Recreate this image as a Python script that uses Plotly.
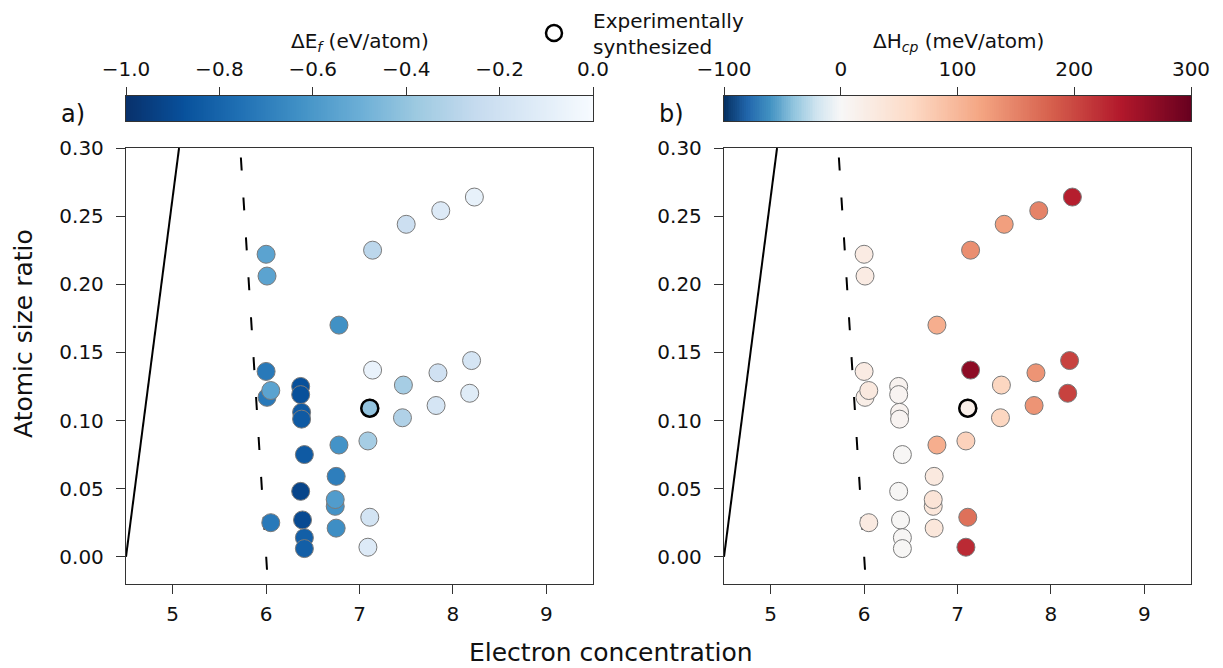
import numpy as np
import plotly.graph_objects as go

W, H = 1223, 668

# ---------------- data ----------------
electron_conc = [8.23, 7.87, 7.50, 7.14, 6.00, 6.01, 6.78, 8.20, 7.84, 7.14, 7.47, 6.00,
                 6.01, 6.05, 6.37, 6.37, 6.38, 6.38, 7.11, 8.18, 7.82, 7.46, 7.09, 6.78,
                 6.41, 6.75, 6.37, 6.74, 6.74, 6.75, 6.05, 6.39, 6.41, 6.41, 7.11, 7.09]
size_ratio = [0.264, 0.254, 0.244, 0.225, 0.222, 0.206, 0.170, 0.144, 0.135, 0.137, 0.126, 0.136,
              0.117, 0.122, 0.125, 0.119, 0.106, 0.101, 0.109, 0.120, 0.111, 0.102, 0.085, 0.082,
              0.075, 0.059, 0.048, 0.037, 0.042, 0.021, 0.025, 0.027, 0.014, 0.006, 0.029, 0.007]
dE_f = [-0.08, -0.13, -0.22, -0.28, -0.55, -0.55, -0.63, -0.17, -0.20, -0.07, -0.35, -0.72,
        -0.72, -0.55, -0.88, -0.88, -0.84, -0.84, -0.40, -0.12, -0.17, -0.32, -0.35, -0.62,
        -0.84, -0.70, -0.92, -0.62, -0.58, -0.64, -0.72, -0.90, -0.82, -0.82, -0.18, -0.13]
dH_cp = [235, 150, 125, 140, 25, 25, 110, 205, 135, 270, 65, 25,
         20, 30, 10, 8, 10, 8, 18, 205, 135, 65, 70, 110,
         3, 30, 2, 35, 40, 35, 28, 3, 4, 3, 165, 225]
synthesized_idx = [18]

solid_x = [4.5, 5.068]
solid_y = [0.0, 0.30]
dashed_x = [5.73, 6.012]
dashed_y = [0.293, -0.012]

x_ticks = [5, 6, 7, 8, 9]
y_ticks = [0.00, 0.05, 0.10, 0.15, 0.20, 0.25, 0.30]
cb_a_ticks = [-1.0, -0.8, -0.6, -0.4, -0.2, 0.0]
cb_b_ticks = [-100, 0, 100, 200, 300]

# ---------------- colour scales ----------------
blues = ['rgb(247,251,255)', 'rgb(222,235,247)', 'rgb(198,219,239)', 'rgb(158,202,225)',
         'rgb(107,174,214)', 'rgb(66,146,198)', 'rgb(33,113,181)', 'rgb(8,81,156)', 'rgb(8,48,107)']
blues_r = blues[::-1]
cs_a = [[i / (len(blues_r) - 1), c] for i, c in enumerate(blues_r)]

rdbu_r = ['rgb(5,48,97)', 'rgb(33,102,172)', 'rgb(67,147,195)', 'rgb(146,197,222)',
          'rgb(209,229,240)', 'rgb(247,247,247)', 'rgb(253,219,199)', 'rgb(244,165,130)',
          'rgb(214,96,77)', 'rgb(178,24,43)', 'rgb(103,0,31)']
vmin_b, vcen_b, vmax_b = -100, 0, 300
pcen = (vcen_b - vmin_b) / (vmax_b - vmin_b)
cs_b = []
for i, c in enumerate(rdbu_r):
    if i <= 5:
        p = pcen * i / 5
    else:
        p = pcen + (1 - pcen) * (i - 5) / 5
    cs_b.append([p, c])

FONT = "DejaVu Sans"
TXT = "#111111"
AX = "#333333"


def pxx(p):
    return p / W


def pxy(p):
    return 1 - p / H


fig = go.Figure()

panels = [("x", "y", dE_f, cs_a, -1.0, 0.0), ("x2", "y2", dH_cp, cs_b, vmin_b, vmax_b)]
for k, (xa, ya, vals, cs, lo, hi) in enumerate(panels):
    fig.add_trace(go.Scatter(x=solid_x, y=solid_y, mode="lines", xaxis=xa, yaxis=ya,
                             line=dict(color="black", width=2), showlegend=False, hoverinfo="skip"))
    fig.add_trace(go.Scatter(x=dashed_x, y=dashed_y, mode="lines", xaxis=xa, yaxis=ya,
                             line=dict(color="black", width=2, dash="13px,27px"),
                             showlegend=False, hoverinfo="skip"))
    fig.add_trace(go.Scatter(x=electron_conc, y=size_ratio, mode="markers", xaxis=xa, yaxis=ya,
                             marker=dict(size=18, color=vals, colorscale=cs, cmin=lo, cmax=hi,
                                         line=dict(color="#7a7a7a", width=1)),
                             showlegend=False))
    fig.add_trace(go.Scatter(x=[electron_conc[i] for i in synthesized_idx],
                             y=[size_ratio[i] for i in synthesized_idx],
                             mode="markers", xaxis=xa, yaxis=ya,
                             name="Experimentally<br>synthesized",
                             showlegend=(k == 0),
                             marker=dict(size=17, color="rgba(0,0,0,0)",
                                         line=dict(color="black", width=2.5))))

# colorbars drawn as heatmaps on their own axes
nb = 256
edges_a = np.linspace(-1.0, 0.0, nb + 1)
fig.add_trace(go.Heatmap(z=[list((edges_a[:-1] + edges_a[1:]) / 2)], x=edges_a, y=[0, 1],
                         colorscale=cs_a, zmin=-1.0, zmax=0.0, showscale=False,
                         xaxis="x3", yaxis="y3", hoverinfo="skip"))
edges_b = np.linspace(vmin_b, vmax_b, nb + 1)
fig.add_trace(go.Heatmap(z=[list((edges_b[:-1] + edges_b[1:]) / 2)], x=edges_b, y=[0, 1],
                         colorscale=cs_b, zmin=vmin_b, zmax=vmax_b, showscale=False,
                         xaxis="x4", yaxis="y4", hoverinfo="skip"))

plot_top, plot_bot = 148, 584
a_left, a_right = 126, 593
b_left, b_right = 724, 1191
cb_top, cb_bot = 96, 121

TF = dict(size=20, color=TXT, family=FONT)
common_x = dict(range=[4.5, 9.5], tickvals=x_ticks, ticks="outside", ticklen=9, tickwidth=1.3,
                tickcolor=AX, showline=True, linecolor=AX, linewidth=1.3, mirror=True,
                showgrid=False, zeroline=False, automargin=False, ticklabelstandoff=3,
                tickfont=TF)
common_y = dict(range=[-0.02, 0.30], tickvals=y_ticks, ticktext=[f"{v:.2f}" for v in y_ticks],
                ticks="outside", ticklen=9, tickwidth=1.3, tickcolor=AX, showline=True,
                linecolor=AX, linewidth=1.3, mirror=True, showgrid=False, zeroline=False,
                automargin=False, ticklabelstandoff=8, tickfont=TF)


def fmt_cb(v, nd):
    s = f"{abs(v):.{nd}f}"
    return ("\u2212" + s) if v < 0 else s


common_cbx = dict(side="top", ticks="outside", ticklen=8, tickwidth=1.3, tickcolor=AX,
                  showline=True, linecolor=AX, linewidth=1.3, mirror=True, showgrid=False,
                  zeroline=False, automargin=False, ticklabelstandoff=3, tickfont=TF)
common_cby = dict(range=[0, 1], showticklabels=False, ticks="", showline=True, linecolor=AX,
                  linewidth=1.3, mirror=True, showgrid=False, zeroline=False, automargin=False)

fig.update_layout(
    width=W, height=H, margin=dict(l=0, r=0, t=0, b=0, autoexpand=False),
    paper_bgcolor="white", plot_bgcolor="white",
    font=dict(family=FONT, color=TXT),
    xaxis=dict(domain=[pxx(a_left), pxx(a_right)], anchor="y", **common_x),
    yaxis=dict(domain=[pxy(plot_bot), pxy(plot_top)], anchor="x", **common_y),
    xaxis2=dict(domain=[pxx(b_left), pxx(b_right)], anchor="y2", **common_x),
    yaxis2=dict(domain=[pxy(plot_bot), pxy(plot_top)], anchor="x2", **common_y),
    xaxis3=dict(domain=[pxx(a_left), pxx(a_right)], anchor="y3", range=[-1.0, 0.0],
                tickvals=cb_a_ticks, ticktext=[fmt_cb(v, 1) for v in cb_a_ticks], **common_cbx),
    yaxis3=dict(domain=[pxy(cb_bot), pxy(cb_top)], anchor="x3", **common_cby),
    xaxis4=dict(domain=[pxx(b_left), pxx(b_right)], anchor="y4", range=[vmin_b, vmax_b],
                tickvals=cb_b_ticks, ticktext=[fmt_cb(v, 0) for v in cb_b_ticks], **common_cbx),
    yaxis4=dict(domain=[pxy(cb_bot), pxy(cb_top)], anchor="x4", **common_cby),
    showlegend=True,
    legend=dict(x=pxx(515), xanchor="left", y=pxy(33), yanchor="middle",
                bgcolor="rgba(0,0,0,0)", font=dict(size=20, color=TXT, family=FONT),
                itemsizing="trace", itemwidth=68),
)

ann = [
    dict(text="a)", x=pxx(73), y=pxy(114), size=24),
    dict(text="b)", x=pxx(672), y=pxy(114), size=24),
    dict(text="\u0394E<sub><i>f</i></sub> (eV/atom)", x=pxx(360), y=pxy(42), size=20),
    dict(text="\u0394H<sub><i>cp</i></sub> (meV/atom)", x=pxx(958), y=pxy(42), size=20),
    dict(text="Electron concentration", x=pxx(611), y=pxy(652), size=25),
]
for a in ann:
    fig.add_annotation(text=a["text"], x=a["x"], y=a["y"], xref="paper", yref="paper",
                       xanchor="center", yanchor="middle", showarrow=False,
                       font=dict(size=a["size"], color=TXT, family=FONT))
fig.add_annotation(text="Atomic size ratio", x=pxx(23), y=pxy(334), xref="paper", yref="paper",
                   xanchor="center", yanchor="middle", showarrow=False, textangle=-90,
                   font=dict(size=25, color=TXT, family=FONT))

fig.write_html("out.html", config={"displayModeBar": False},
               post_script="document.body.style.margin='0';document.body.style.padding='0';")
